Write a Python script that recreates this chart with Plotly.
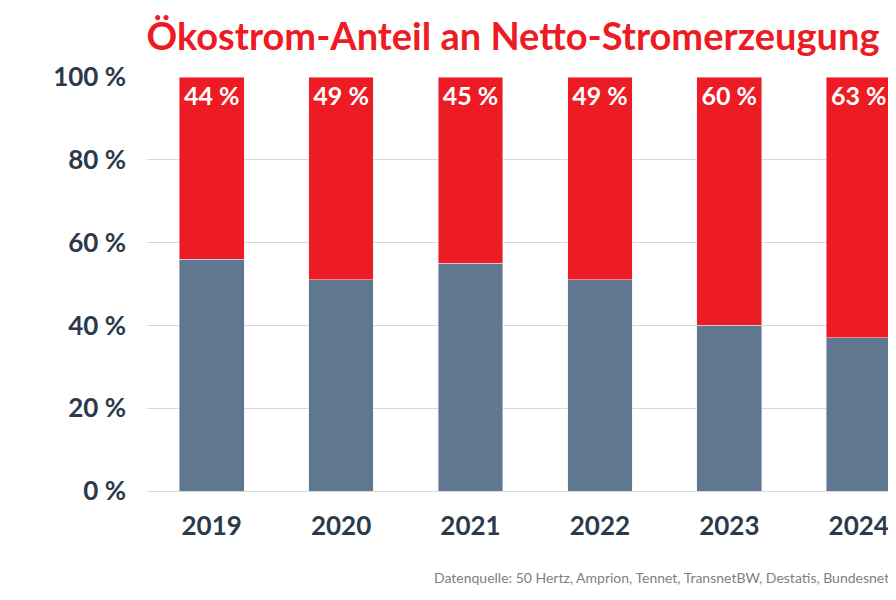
import plotly.graph_objects as go

years = ["2019", "2020", "2021", "2022", "2023", "2024"]
oeko = [44, 49, 45, 49, 60, 63]
rest = [56, 51, 55, 51, 40, 37]

red = "#ED1C24"
grey = "#5F7890"
dark = "#2B3A4A"

fig = go.Figure()
fig.add_trace(go.Bar(x=years, y=rest, marker_color=grey, width=0.5, hoverinfo="skip"))
fig.add_trace(go.Bar(x=years, y=oeko, marker_color=red, width=0.5,
                     text=[f"{v} %" for v in oeko], textposition="inside",
                     insidetextanchor="end", textangle=0,
                     textfont=dict(color="white", size=25, family="Lato", weight="bold")))

fig.update_layout(
    barmode="stack", showlegend=False,
    width=896, height=600,
    margin=dict(l=139, r=0, t=69, b=117),
    paper_bgcolor="white", plot_bgcolor="white",
    font=dict(family="Lato", color=dark),
    title=dict(text="Ökostrom-Anteil an Netto-Stromerzeugung", x=505 / 896, xanchor="center",
               y=0.952, yanchor="middle",
               font=dict(size=38, color=red, family="Lato", weight="bold")),
    uniformtext=dict(mode="show", minsize=10),
)
fig.update_xaxes(range=[-0.5, 5.35], tickfont=dict(size=26, color=dark, weight="bold"),
                 showline=True, linecolor="#D9D9D9", ticks="", ticklabelstandoff=12)
fig.update_yaxes(range=[0, 100], dtick=20, ticksuffix=" %", tickfont=dict(size=26, color=dark, weight="bold"),
                 gridcolor="#D9D9D9", ticklabelstandoff=20)
fig.add_annotation(text="Datenquelle: 50 Hertz, Amprion, Tennet, TransnetBW, Destatis, Bundesnetzagentur",
                   xref="paper", yref="paper", x=(424 - 139) / 757, y=-0.21,
                   xanchor="left", yanchor="middle", showarrow=False,
                   font=dict(size=14, color="#7F7F7F", family="Lato"))

fig.write_html("out.html")
